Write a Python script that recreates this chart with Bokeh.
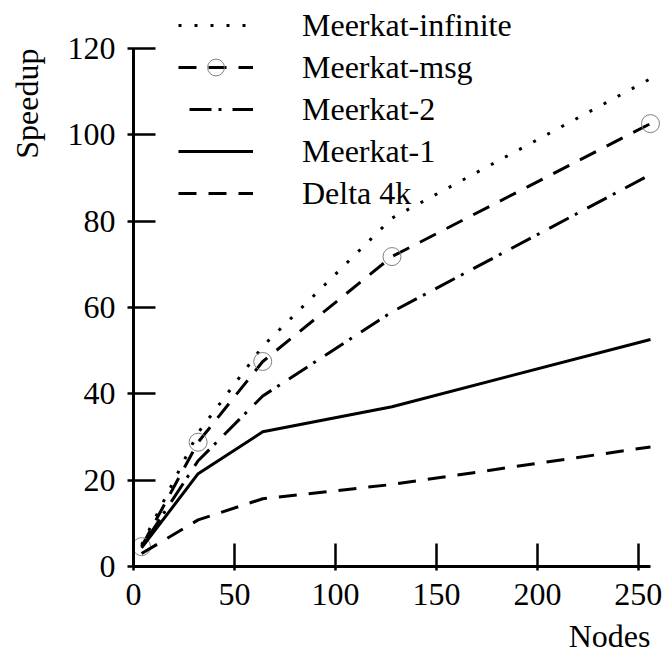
import math
from bokeh.plotting import figure
from bokeh.models import Range1d, FixedTicker, Legend, LegendItem, Label
from bokeh.embed import file_html
from bokeh.resources import INLINE

# ---- data ----
nodes = [4, 32, 64, 128, 256]
meerkat_infinite = [5.0, 31.0, 51.0, 80.7, 113.0]
meerkat_msg = [4.6, 28.8, 47.5, 71.8, 102.6]
meerkat_2 = [4.5, 24.5, 39.5, 59.0, 90.8]
meerkat_1 = [4.3, 21.5, 31.2, 37.0, 52.6]
delta_4k = [3.0, 10.8, 15.7, 19.0, 27.7]

x_ticks = [0, 50, 100, 150, 200, 250]
y_ticks = [0, 20, 40, 60, 80, 100, 120]

FONT = "Liberation Serif"
FS = "32px"

# frame spans the whole canvas; axes are drawn at the data origin
p = figure(width=666, height=652, output_backend="svg", toolbar_location=None,
           x_range=Range1d(-65.86, 263.93), y_range=Range1d(-19.92, 131.12),
           min_border_left=0, min_border_right=0,
           min_border_top=0, min_border_bottom=0)
p.outline_line_color = None
p.grid.visible = False
p.background_fill_color = "white"
p.border_fill_color = "white"

for ax in (p.xaxis[0], p.yaxis[0]):
    ax.fixed_location = 0
    ax.axis_line_width = 3
    ax.axis_line_color = "black"
    ax.major_tick_line_width = 2.5
    ax.major_tick_line_color = "black"
    ax.minor_tick_line_color = None
    ax.major_label_text_font = FONT
    ax.major_label_text_font_size = FS
    ax.major_label_text_color = "black"

p.xaxis.ticker = FixedTicker(ticks=x_ticks)
p.yaxis.ticker = FixedTicker(ticks=y_ticks)
p.xaxis.bounds = (0, nodes[-1])
p.yaxis.bounds = (y_ticks[0], y_ticks[-1])
p.xaxis.major_tick_in = 23
p.xaxis.major_tick_out = 4
p.xaxis.major_label_standoff = 13
p.yaxis.major_tick_in = 22
p.yaxis.major_tick_out = 6
p.yaxis.major_label_standoff = 12

lw = 3
r_inf = p.line(nodes, meerkat_infinite, line_color="black", line_width=lw,
               line_dash="3 13")
r_msg = p.line(nodes, meerkat_msg, line_color="black", line_width=lw,
               line_dash="18 12")
r_msg_pts = p.scatter(nodes, meerkat_msg, marker="circle", size=18,
                      fill_color=None, line_color="#808080", line_width=1)
r_m2 = p.line(nodes, meerkat_2, line_color="black", line_width=lw,
              line_dash="22 7 3 11", line_dash_offset=32)
r_m1 = p.line(nodes, meerkat_1, line_color="black", line_width=lw)
r_delta = p.line(nodes, delta_4k, line_color="black", line_width=lw,
                 line_dash="18 12")

legend = Legend(items=[
    LegendItem(label="Meerkat-infinite", renderers=[r_inf]),
    LegendItem(label="Meerkat-msg", renderers=[r_msg, r_msg_pts]),
    LegendItem(label="Meerkat-2", renderers=[r_m2]),
    LegendItem(label="Meerkat-1", renderers=[r_m1]),
    LegendItem(label="Delta 4k", renderers=[r_delta]),
], location=(178, 438))
legend.label_text_font = FONT
legend.label_text_font_size = FS
legend.label_text_color = "black"
legend.glyph_width = 75
legend.glyph_height = 42
legend.label_height = 42
legend.spacing = 0
legend.label_standoff = 49
legend.padding = 0
legend.margin = 0
legend.border_line_color = None
legend.background_fill_alpha = 0
p.add_layout(legend, "center")

p.add_layout(Label(x=-52.5, y=120.0, text="Speedup", angle=math.pi / 2,
                   text_font=FONT, text_font_size=FS, text_color="black",
                   text_align="right", text_baseline="alphabetic"))
p.add_layout(Label(x=256, y=-16.0, text="Nodes",
                   text_font=FONT, text_font_size=FS, text_color="black",
                   text_align="right", text_baseline="alphabetic"))

open("out.html", "w").write(file_html(p, INLINE))
